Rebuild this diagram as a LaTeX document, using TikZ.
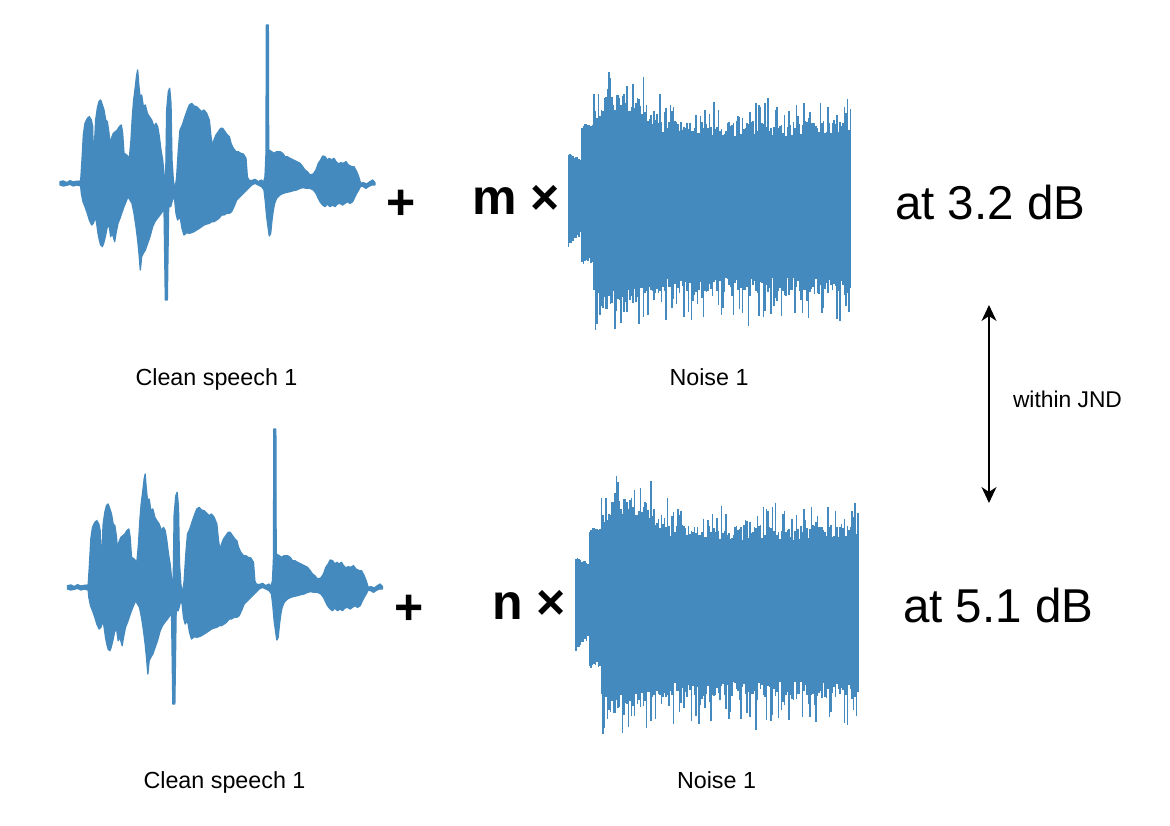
\documentclass[tikz,border=0pt]{standalone}
\usepackage{fontspec}
\setmainfont{Liberation Sans}
\usetikzlibrary{arrows.meta}
\definecolor{wave}{RGB}{68,138,190}

\newcommand{\speechwave}{%
\fill[wave, draw=wave, line width=1.3pt, line join=round]
(30,485) -- (40,483) -- (50,488) -- (60,482) -- (70,486) -- (80,484) -- (92,483) -- (96,420) -- (100,345) -- (105,310) -- (112,295) -- (118,290) -- (124,300) -- (128,320) -- (130,420) -- (133,380) -- (137,300) -- (142,265) -- (147,245) -- (152,240) -- (157,255) -- (162,270) -- (167,300) -- (172,305) -- (177,340) -- (180,380) -- (184,355) -- (190,340) -- (196,335) -- (202,330) -- (208,320) -- (214,315) -- (218,340) -- (222,400) -- (230,405) -- (238,415) -- (243,360) -- (247,290) -- (251,240) -- (256,200) -- (260,165) -- (263,150) -- (266,190) -- (270,230) -- (275,225) -- (280,260) -- (286,255) -- (292,280) -- (298,290) -- (305,300) -- (312,320) -- (318,310) -- (323,320) -- (328,350) -- (333,390) -- (338,420) -- (343,470) -- (347,480) -- (350,270) -- (355,215) -- (359,205) -- (363,250) -- (366,420) -- (370,480) -- (375,510) -- (380,470) -- (385,390) -- (390,330) -- (397,315) -- (405,290) -- (412,270) -- (418,255) -- (425,250) -- (432,258) -- (440,260) -- (448,268) -- (455,275) -- (462,270) -- (470,280) -- (478,300) -- (483,350) -- (488,380) -- (492,360) -- (498,345) -- (505,335) -- (512,325) -- (518,325) -- (525,335) -- (532,345) -- (538,350) -- (543,370) -- (550,385) -- (558,395) -- (565,395) -- (572,400) -- (580,402) -- (588,415) -- (592,470) -- (596,480) -- (605,482) -- (615,478) -- (625,485) -- (635,480) -- (640,490) -- (645,470) -- (648,400) -- (649,15) -- (655,15) -- (656,390) -- (660,392) -- (665,395) -- (672,400) -- (680,395) -- (690,395) -- (698,400) -- (705,410) -- (712,410) -- (720,415) -- (730,420) -- (740,425) -- (750,430) -- (758,440) -- (765,450) -- (772,455) -- (780,465) -- (790,462) -- (798,450) -- (805,430) -- (812,420) -- (818,408) -- (825,410) -- (832,420) -- (838,415) -- (845,420) -- (852,415) -- (858,425) -- (866,432) -- (872,428) -- (880,430) -- (888,425) -- (895,435) -- (905,440) -- (912,440) -- (920,455) -- (926,470) -- (932,490) -- (940,488) -- (950,492) -- (960,485) -- (968,480) -- (975,488)
-- (975,495) -- (965,495) -- (955,500) -- (948,505) -- (940,500) -- (932,498) -- (926,510) -- (920,520) -- (915,530) -- (908,545) -- (900,550) -- (892,545) -- (885,550) -- (878,555) -- (870,550) -- (862,552) -- (855,560) -- (848,555) -- (840,560) -- (832,552) -- (825,560) -- (818,555) -- (810,545) -- (805,535) -- (798,520) -- (790,510) -- (780,505) -- (770,505) -- (760,503) -- (750,505) -- (740,510) -- (730,512) -- (720,515) -- (710,517) -- (700,520) -- (690,525) -- (680,535) -- (674,550) -- (670,570) -- (666,600) -- (662,640) -- (658,648) -- (654,620) -- (650,590) -- (646,545) -- (642,510) -- (635,500) -- (625,495) -- (615,490) -- (605,495) -- (598,502) -- (590,510) -- (580,520) -- (570,530) -- (560,540) -- (552,560) -- (545,575) -- (538,580) -- (530,580) -- (522,585) -- (515,585) -- (507,595) -- (500,600) -- (492,605) -- (485,605) -- (478,610) -- (470,612) -- (462,615) -- (455,620) -- (448,625) -- (440,630) -- (432,635) -- (425,638) -- (418,640) -- (410,638) -- (402,645) -- (396,625) -- (392,600) -- (388,590) -- (383,600) -- (378,580) -- (374,540) -- (370,530) -- (366,545) -- (362,560) -- (356,560) -- (352,840) -- (346,840) -- (342,560) -- (337,575) -- (330,585) -- (322,595) -- (315,605) -- (308,620) -- (300,650) -- (293,670) -- (286,690) -- (280,700) -- (275,710) -- (271,750) -- (267,700) -- (263,660) -- (258,620) -- (252,580) -- (246,550) -- (240,540) -- (234,530) -- (228,545) -- (222,560) -- (215,580) -- (210,595) -- (204,610) -- (198,640) -- (194,665) -- (190,650) -- (186,640) -- (182,650) -- (178,620) -- (172,620) -- (166,650) -- (161,670) -- (157,680) -- (152,675) -- (148,660) -- (144,640) -- (140,610) -- (136,590) -- (130,610) -- (125,615) -- (118,600) -- (112,580) -- (105,560) -- (99,545) -- (94,520) -- (92,498) -- (80,495) -- (70,498) -- (60,493) -- (50,496) -- (40,498) -- (30,495) -- cycle;%
}

\newcommand{\noisewave}{%
\pgfmathsetseed{42}%
\foreach \x in {568.5,570,...,851.8}{%
  \pgfmathsetmacro\at{\x<582 ? 45-0.5*(\x-568)+3*rnd : (\x<593 ? 72+8*rnd : (72+26/(1+pow((\x-620)/30,4)))*(0.88+0.2*rnd+0.4*pow(rnd,4)))}%
  \pgfmathsetmacro\ab{\x<582 ? 45-1.1*(\x-568)+4*rnd : (\x<593 ? 58+6*rnd : (88+12/(1+pow((\x-612)/28,4)))*(0.88+0.2*rnd+0.4*pow(rnd,4)))}%
  \draw[wave, line width=1.7pt] (\x,{200-\at}) -- (\x,{200+\ab});
}%
}

\tikzset{
  bigtxt/.style={font=\fontsize{47.5}{56}\selectfont, inner sep=0pt},
  optxt/.style={font=\bfseries\fontsize{50}{60}\selectfont, inner sep=0pt},
  lbltxt/.style={font=\fontsize{23.3}{28}\selectfont, inner sep=0pt},
  jndtxt/.style={font=\fontsize{22.8}{27}\selectfont, inner sep=0pt},
}

\begin{document}
\begin{tikzpicture}[x=1pt,y=-1pt]
\useasboundingbox (0,0) rectangle (1170,826);
\fill[white] (0,0) rectangle (1170,826);

% top row
\begin{scope}[shift={(50,20)}, scale=1/3]
  \speechwave
\end{scope}
\noisewave
\node[optxt, anchor=base] (plus1) at (401.5,220) {+};
\node[optxt, anchor=base west] (m1) at (472,215) {m ×};
\node[bigtxt, anchor=base west] (db1) at (895,220) {at 3.2 dB};
\node[lbltxt, anchor=base] (cs1) at (216.5,385) {Clean speech 1};
\node[lbltxt, anchor=base] (n1) at (709,385) {Noise 1};

% bottom row
\begin{scope}[shift={(57.5,424)}, scale=1/3]
  \speechwave
\end{scope}
\begin{scope}[shift={(7.5,404)}]
  \noisewave
\end{scope}
\node[optxt, anchor=base] (plus2) at (409,624) {+};
\node[optxt, anchor=base west] (m2) at (492,619) {n ×};
\node[bigtxt, anchor=base west] (db2) at (903,622) {at 5.1 dB};
\node[lbltxt, anchor=base] (cs2) at (224.5,788) {Clean speech 1};
\node[lbltxt, anchor=base] (n2) at (716.5,788) {Noise 1};

% JND arrow
\coordinate (jtop) at (989,305);
\coordinate (jbot) at (989,503);
\draw[line width=1.6pt, {Stealth[length=16pt,width=15pt,inset=5pt]}-{Stealth[length=16pt,width=15pt,inset=5pt]}] (jtop) -- (jbot);
\node[jndtxt, anchor=base] (jnd) at (1067.5,407) {within JND};
\end{tikzpicture}
\end{document}
